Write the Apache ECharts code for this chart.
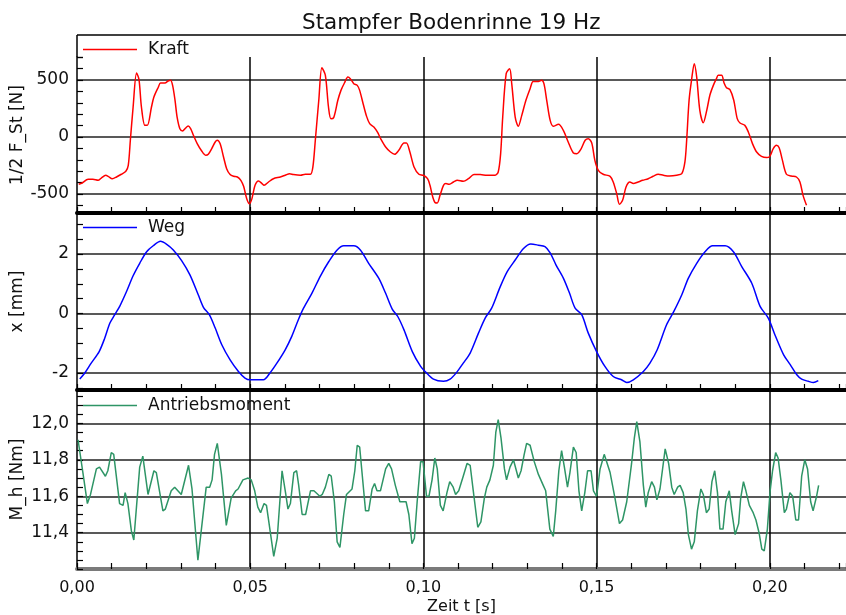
<!DOCTYPE html>
<html>
<head>
<meta charset="utf-8">
<script src="https://cdn.jsdelivr.net/npm/echarts@6.0.0/dist/echarts.min.js"></script>
<style>
html, body { margin: 0; padding: 0; background: #fff; }
#main { width: 846px; height: 615px; }
</style>
</head>
<body>
<div id="main"></div>
<script>
// Kraft: 1/2 F_St [N]
var kraftT = [0.0005,0.0015,0.0032,0.0046,0.0061,0.0070,0.0083,0.0090,0.0102,0.0114,0.0128,0.0141,0.0148,0.0154,0.0162,0.0172,0.0179,0.0186,0.0196,0.0203,0.0215,0.0222,0.0235,0.0241,0.0254,0.0263,0.0270,0.0276,0.0283,0.0289,0.0297,0.0305,0.0312,0.0321,0.0328,0.0336,0.0347,0.0360,0.0372,0.0379,0.0389,0.0399,0.0405,0.0413,0.0423,0.0432,0.0442,0.0452,0.0463,0.0473,0.0481,0.0490,0.0498,0.0505,0.0514,0.0524,0.0534,0.0540,0.0553,0.0567,0.0587,0.0601,0.0614,0.0625,0.0645,0.0659,0.0674,0.0681,0.0688,0.0698,0.0707,0.0717,0.0726,0.0733,0.0741,0.0753,0.0762,0.0772,0.0782,0.0789,0.0799,0.0809,0.0816,0.0826,0.0836,0.0845,0.0857,0.0867,0.0878,0.0891,0.0905,0.0917,0.0929,0.0944,0.0951,0.0961,0.0973,0.0987,0.1000,0.1012,0.1019,0.1027,0.1034,0.1040,0.1048,0.1058,0.1065,0.1075,0.1087,0.1098,0.1115,0.1130,0.1146,0.1164,0.1183,0.1207,0.1216,0.1223,0.1229,0.1239,0.1249,0.1255,0.1265,0.1274,0.1284,0.1296,0.1308,0.1317,0.1332,0.1341,0.1348,0.1356,0.1366,0.1375,0.1390,0.1404,0.1418,0.1433,0.1443,0.1454,0.1467,0.1476,0.1486,0.1495,0.1505,0.1519,0.1539,0.1548,0.1558,0.1566,0.1575,0.1585,0.1596,0.1606,0.1620,0.1633,0.1649,0.1663,0.1678,0.1693,0.1710,0.1731,0.1746,0.1755,0.1760,0.1767,0.1774,0.1782,0.1789,0.1798,0.1808,0.1818,0.1827,0.1837,0.1846,0.1851,0.1861,0.1868,0.1875,0.1885,0.1896,0.1906,0.1914,0.1928,0.1938,0.1950,0.1962,0.1976,0.1991,0.2000,0.2010,0.2019,0.2027,0.2036,0.2048,0.2062,0.2077,0.2087,0.2096,0.2106];
var kraftV = [-415,-404,-371,-371,-380,-360,-336,-345,-366,-351,-327,-301,-249,-29,263,561,503,263,102,102,263,351,439,474,474,491,497,453,322,175,73,53,73,96,73,15,-58,-123,-161,-152,-102,-44,-29,-58,-175,-278,-330,-345,-351,-380,-433,-541,-585,-541,-424,-386,-409,-424,-395,-366,-351,-336,-322,-330,-336,-327,-327,-263,-29,322,608,541,263,161,170,322,409,474,526,512,468,453,409,292,181,117,88,44,-23,-88,-132,-152,-117,-53,-53,-132,-263,-327,-336,-366,-424,-526,-576,-579,-512,-424,-409,-415,-395,-380,-389,-366,-330,-330,-336,-336,-307,-146,175,556,599,468,175,94,190,322,424,488,488,497,468,322,146,94,111,58,-44,-140,-146,-111,-29,-15,-53,-205,-292,-327,-345,-395,-497,-591,-556,-439,-395,-409,-395,-380,-366,-345,-327,-336,-342,-336,-322,-219,-29,322,497,643,526,234,126,234,366,453,512,541,541,474,433,415,322,161,123,102,44,-58,-132,-170,-181,-170,-102,-73,-94,-199,-327,-342,-351,-395,-512,-599];

// Weg: x [mm]
var wegT = [0.0008,0.0022,0.0041,0.0064,0.0080,0.0095,0.0109,0.0124,0.0143,0.0162,0.0181,0.0201,0.0220,0.0241,0.0259,0.0278,0.0302,0.0326,0.0350,0.0365,0.0382,0.0399,0.0418,0.0442,0.0466,0.0485,0.0500,0.0538,0.0557,0.0577,0.0601,0.0620,0.0639,0.0654,0.0678,0.0703,0.0727,0.0751,0.0770,0.0799,0.0818,0.0842,0.0871,0.0891,0.0910,0.0926,0.0944,0.0968,0.0992,0.1005,0.1029,0.1058,0.1077,0.1096,0.1115,0.1135,0.1159,0.1178,0.1197,0.1221,0.1242,0.1265,0.1289,0.1310,0.1332,0.1351,0.1366,0.1383,0.1404,0.1422,0.1438,0.1457,0.1476,0.1500,0.1524,0.1548,0.1572,0.1587,0.1606,0.1635,0.1654,0.1675,0.1702,0.1723,0.1746,0.1765,0.1789,0.1813,0.1835,0.1871,0.1895,0.1919,0.1948,0.1972,0.1996,0.2015,0.2040,0.2059,0.2078,0.2092,0.2111,0.2126,0.2140];
var wegV = [-2.20,-2.01,-1.67,-1.28,-0.83,-0.32,-0.04,0.26,0.74,1.27,1.69,2.08,2.28,2.43,2.33,2.14,1.78,1.30,0.63,0.21,-0.04,-0.49,-1.05,-1.56,-1.95,-2.17,-2.23,-2.23,-2.00,-1.67,-1.22,-0.77,-0.21,0.18,0.68,1.27,1.75,2.14,2.28,2.28,2.14,1.69,1.19,0.68,0.15,-0.10,-0.55,-1.28,-1.78,-1.95,-2.21,-2.28,-2.21,-1.98,-1.67,-1.33,-0.66,-0.16,0.18,0.88,1.41,1.80,2.19,2.34,2.30,2.25,2.04,1.63,1.19,0.68,0.18,-0.04,-0.66,-1.28,-1.78,-2.12,-2.23,-2.32,-2.23,-1.95,-1.67,-1.22,-0.38,0.07,0.63,1.19,1.69,2.08,2.28,2.28,2.08,1.58,1.02,0.24,-0.16,-0.72,-1.39,-1.72,-2.06,-2.21,-2.28,-2.32,-2.26];

// Antriebsmoment: M_h [Nm]
var momentT = [0.0003,0.0008,0.0017,0.0030,0.0039,0.0056,0.0065,0.0082,0.0089,0.0099,0.0106,0.0123,0.0133,0.0139,0.0147,0.0157,0.0164,0.0181,0.0190,0.0205,0.0222,0.0229,0.0248,0.0255,0.0272,0.0282,0.0301,0.0306,0.0322,0.0332,0.0349,0.0373,0.0383,0.0390,0.0397,0.0405,0.0417,0.0431,0.0445,0.0458,0.0465,0.0479,0.0494,0.0503,0.0513,0.0522,0.0530,0.0540,0.0547,0.0568,0.0578,0.0592,0.0602,0.0609,0.0616,0.0626,0.0634,0.0640,0.0650,0.0660,0.0674,0.0684,0.0701,0.0708,0.0717,0.0727,0.0734,0.0743,0.0751,0.0759,0.0770,0.0778,0.0794,0.0802,0.0809,0.0816,0.0833,0.0842,0.0852,0.0859,0.0866,0.0876,0.0891,0.0900,0.0908,0.0919,0.0932,0.0939,0.0950,0.0958,0.0967,0.0974,0.0982,0.0992,0.0999,0.1009,0.1016,0.1025,0.1033,0.1040,0.1049,0.1057,0.1068,0.1076,0.1086,0.1093,0.1102,0.1115,0.1126,0.1135,0.1144,0.1157,0.1166,0.1176,0.1183,0.1192,0.1202,0.1209,0.1216,0.1224,0.1234,0.1240,0.1250,0.1260,0.1274,0.1282,0.1291,0.1298,0.1308,0.1320,0.1332,0.1346,0.1353,0.1365,0.1375,0.1382,0.1391,0.1399,0.1407,0.1416,0.1423,0.1433,0.1441,0.1449,0.1457,0.1466,0.1474,0.1484,0.1491,0.1500,0.1510,0.1522,0.1539,0.1553,0.1566,0.1575,0.1587,0.1601,0.1609,0.1616,0.1625,0.1635,0.1642,0.1649,0.1659,0.1667,0.1674,0.1683,0.1698,0.1708,0.1717,0.1724,0.1734,0.1741,0.1750,0.1758,0.1765,0.1774,0.1782,0.1791,0.1801,0.1808,0.1817,0.1825,0.1833,0.1841,0.1849,0.1856,0.1865,0.1873,0.1883,0.1890,0.1900,0.1910,0.1916,0.1924,0.1931,0.1941,0.1952,0.1960,0.1969,0.1977,0.1984,0.1993,0.2001,0.2008,0.2017,0.2024,0.2032,0.2042,0.2048,0.2058,0.2066,0.2075,0.2083,0.2092,0.2101,0.2109,0.2118,0.2125,0.2135,0.2141];
var momentV = [11.91,11.90,11.73,11.56,11.61,11.75,11.76,11.71,11.74,11.84,11.83,11.56,11.55,11.62,11.56,11.41,11.36,11.76,11.82,11.61,11.74,11.73,11.52,11.53,11.63,11.65,11.61,11.61,11.77,11.64,11.25,11.65,11.65,11.69,11.83,11.89,11.72,11.44,11.59,11.63,11.64,11.69,11.70,11.69,11.63,11.54,11.51,11.56,11.55,11.27,11.37,11.74,11.62,11.53,11.56,11.73,11.74,11.66,11.50,11.50,11.63,11.63,11.60,11.61,11.65,11.72,11.71,11.57,11.35,11.32,11.50,11.61,11.64,11.74,11.88,11.87,11.52,11.52,11.64,11.67,11.63,11.63,11.75,11.78,11.75,11.66,11.57,11.57,11.57,11.50,11.34,11.37,11.57,11.79,11.79,11.60,11.60,11.69,11.81,11.75,11.55,11.52,11.62,11.68,11.65,11.61,11.63,11.71,11.78,11.77,11.63,11.43,11.46,11.59,11.65,11.69,11.77,11.95,12.02,11.92,11.75,11.69,11.76,11.80,11.70,11.74,11.83,11.89,11.88,11.79,11.72,11.66,11.63,11.42,11.38,11.52,11.74,11.85,11.76,11.65,11.73,11.87,11.84,11.63,11.52,11.62,11.74,11.74,11.63,11.60,11.75,11.83,11.73,11.59,11.45,11.47,11.57,11.78,11.92,12.01,11.90,11.66,11.54,11.62,11.68,11.65,11.58,11.64,11.86,11.78,11.65,11.61,11.65,11.66,11.62,11.53,11.39,11.31,11.35,11.52,11.64,11.61,11.51,11.53,11.68,11.74,11.62,11.42,11.42,11.57,11.63,11.52,11.39,11.45,11.59,11.68,11.63,11.55,11.51,11.47,11.40,11.31,11.30,11.42,11.63,11.74,11.84,11.81,11.69,11.51,11.53,11.62,11.60,11.47,11.47,11.71,11.80,11.75,11.57,11.52,11.60,11.66];

var seriesNames = ['Kraft', 'Weg', 'Antriebsmoment'];
var seriesColors = ['#ff0000', '#0000ff', '#2e9566'];

var FONT = 'DejaVu Sans';

function pairs(t, v) {
    return t.map(function (x, i) { return [x, v[i]]; });
}
function comma(digits) {
    return function (v) { return v.toFixed(digits).replace('.', ','); };
}

function makeXAxis(idx, last, lineColor) {
    return {
        type: 'value', gridIndex: idx, min: 0, max: 0.222,
        splitNumber: 4, minInterval: 0.05, maxInterval: 0.05,
        axisLine: { show: true, onZero: false, lineStyle: { color: lineColor, width: 4 } },
        axisTick: { show: true, inside: true, length: 6, lineStyle: { color: '#000', width: 1.2 } },
        minorTick: { show: true, splitNumber: 5, length: 6, lineStyle: { color: '#000', width: 1.2 } },
        splitLine: { show: true, showMinLine: false, showMaxLine: false, lineStyle: { color: '#000', width: 1.5 } },
        axisLabel: {
            show: last, formatter: comma(2), showMaxLabel: false,
            color: '#111', fontFamily: FONT, fontSize: 16, margin: 11
        },
        name: last ? 'Zeit t [s]' : '',
        nameLocation: 'middle', nameGap: 30, nameMoveOverlap: false,
        nameTextStyle: { color: '#111', fontFamily: FONT, fontSize: 16 }
    };
}

function makeYAxis(idx, min, max, step, minorSplit, name, fmt) {
    return {
        type: 'value', gridIndex: idx, min: min, max: max,
        splitNumber: 3, minInterval: step, maxInterval: step,
        axisLine: { show: true, onZero: false, lineStyle: { color: '#000', width: 1.5 } },
        axisTick: { show: true, inside: true, length: 6, lineStyle: { color: '#000', width: 1.2 } },
        minorTick: { show: true, splitNumber: minorSplit, length: 6, lineStyle: { color: '#000', width: 1.2 } },
        splitLine: { show: true, showMinLine: false, showMaxLine: false, lineStyle: { color: '#222', width: 1.6 } },
        axisLabel: {
            formatter: fmt, showMinLabel: false, showMaxLabel: false,
            color: '#111', fontFamily: FONT, fontSize: 17, margin: 8
        },
        name: name, nameLocation: 'middle', nameGap: 51, nameMoveOverlap: false,
        nameTextStyle: { color: '#111', fontFamily: FONT, fontSize: 17 }
    };
}

function makeLegend(name, top) {
    return {
        data: [{ name: name, icon: 'rect' }], left: 83, top: top, padding: 0,
        itemWidth: 54, itemHeight: 1.5,
        textStyle: { color: '#111', fontFamily: FONT, fontSize: 17, padding: [0, 0, 0, 6] }
    };
}

var chart = echarts.init(document.getElementById('main'), null, { renderer: 'canvas' });

var option = {
    animation: false,
    backgroundColor: '#fff',
    title: {
        text: 'Stampfer Bodenrinne 19 Hz', left: 297, top: 7,
        textStyle: { color: '#111', fontFamily: FONT, fontSize: 21.5, fontWeight: 'normal' }
    },
    legend: [makeLegend('Kraft', 41), makeLegend('Weg', 219), makeLegend('Antriebsmoment', 397)],
    grid: [
        { left: 77, top: 57, width: 769, height: 156, outerBoundsMode: 'none' },
        { left: 77, top: 213, width: 769, height: 177, outerBoundsMode: 'none' },
        { left: 77, top: 390, width: 769, height: 179, outerBoundsMode: 'none' }
    ],
    xAxis: [
        makeXAxis(0, false, '#000'),
        makeXAxis(1, false, '#000'),
        makeXAxis(2, true, '#7a7a7a')
    ],
    yAxis: [
        makeYAxis(0, -667, 702, 500, 5, '1/2 F_St [N]', function (v) { return String(v); }),
        makeYAxis(1, -2.573, 3.382, 2, 4, 'x [mm]', function (v) { return String(v); }),
        makeYAxis(2, 11.201, 12.183, 0.2, 4, 'M_h [Nm]', comma(1))
    ],
    graphic: [
        { type: 'line', shape: { x1: 77, y1: 35, x2: 846, y2: 35 }, style: { stroke: '#000', lineWidth: 1.5 } },
        { type: 'line', shape: { x1: 77, y1: 35, x2: 77, y2: 57 }, style: { stroke: '#000', lineWidth: 1.5 } }
    ],
    series: [
        {
            name: seriesNames[0], type: 'line', xAxisIndex: 0, yAxisIndex: 0,
            data: pairs(kraftT, kraftV), symbol: 'none', smooth: 0.3,
            lineStyle: { color: seriesColors[0], width: 1.5 }, itemStyle: { color: seriesColors[0] }
        },
        {
            name: seriesNames[1], type: 'line', xAxisIndex: 1, yAxisIndex: 1,
            data: pairs(wegT, wegV), symbol: 'none', smooth: 0.3,
            lineStyle: { color: seriesColors[1], width: 1.5 }, itemStyle: { color: seriesColors[1] }
        },
        {
            name: seriesNames[2], type: 'line', xAxisIndex: 2, yAxisIndex: 2,
            data: pairs(momentT, momentV), symbol: 'none',
            lineStyle: { color: seriesColors[2], width: 1.5 }, itemStyle: { color: seriesColors[2] }
        }
    ]
};

chart.setOption(option);
</script>
</body>
</html>
